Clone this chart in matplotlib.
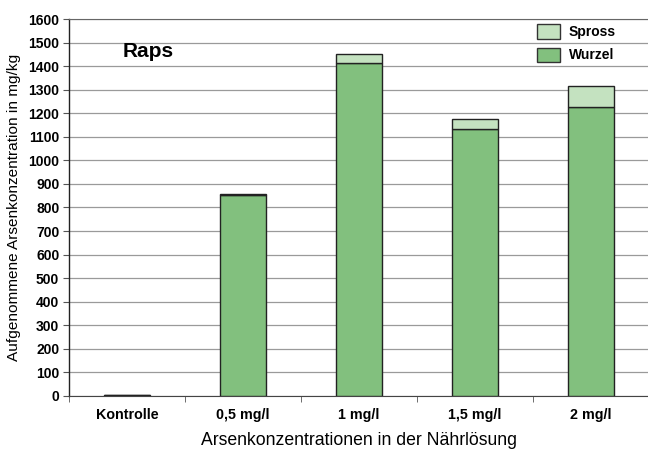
import matplotlib
matplotlib.use("Agg")
import matplotlib.pyplot as plt
from matplotlib.patches import Patch
import numpy as np

categories = ["Kontrolle", "0,5 mg/l", "1 mg/l", "1,5 mg/l", "2 mg/l"]
wurzel = [3, 852, 1415, 1133, 1228]
spross = [1, 6, 35, 43, 87]
yticks = list(range(0, 1700, 100))

plt.rcParams['font.family'] = ['Liberation Sans', 'DejaVu Sans']

fig = plt.figure(figsize=(6.48, 4.53), dpi=100)
ax = fig.add_axes([0.1065, 0.126, 0.895, 0.832])

x = np.arange(len(categories))
c_w = "#82c07e"
c_s = "#c4e2c0"
w = 0.4
ax.bar(x, wurzel, width=w, color=c_w, edgecolor="#222222", linewidth=1.0, zorder=3)
ax.bar(x, spross, bottom=wurzel, width=w, color=c_s, edgecolor="#222222", linewidth=1.0, zorder=3)

ax.set_ylim(0, 1600)
ax.set_xlim(-0.5, 4.5)
ax.set_yticks(yticks)
ax.set_yticklabels([str(v) for v in yticks], fontweight="bold", fontsize=10)
ax.set_xticks(x)
ax.set_xticklabels(categories, fontweight="bold", fontsize=10.3)
ax.tick_params(axis="x", which="major", length=0, pad=9)
ax.set_xticks(np.arange(-0.5, 4.6, 1.0), minor=True)
ax.tick_params(axis="x", which="minor", length=4, color="#555555")
ax.tick_params(axis="y", length=4, color="#555555", pad=3)

ax.grid(axis="y", color="#9a9a9a", linewidth=0.9, zorder=0)
ax.spines["right"].set_visible(False)
ax.spines["top"].set_visible(True)
ax.spines["top"].set_color("#666666")
ax.spines["left"].set_color("#222222")
ax.spines["bottom"].set_color("#444444")
ax.spines["left"].set_linewidth(1.0)

ax.set_ylabel("Aufgenommene Arsenkonzentration in mg/kg", fontsize=11.1, labelpad=5)
ax.set_xlabel("Arsenkonzentrationen in der Nährlösung", fontsize=12.7, labelpad=7)

ax.text(0.093, 0.915, "Raps", transform=ax.transAxes, fontsize=15, fontweight="bold", va="center", ha="left")

handles = [Patch(facecolor=c_s, edgecolor="#333333", label="Spross"),
           Patch(facecolor=c_w, edgecolor="#333333", label="Wurzel")]
leg = ax.legend(handles=handles, loc="upper right", bbox_to_anchor=(0.962, 1.015), frameon=False,
                prop={"weight": "bold", "size": 10}, handlelength=1.7, handleheight=1.2,
                labelspacing=0.6, handletextpad=0.6, borderpad=0.3)
leg.set_zorder(5)

fig.savefig("out.png", dpi=100)
